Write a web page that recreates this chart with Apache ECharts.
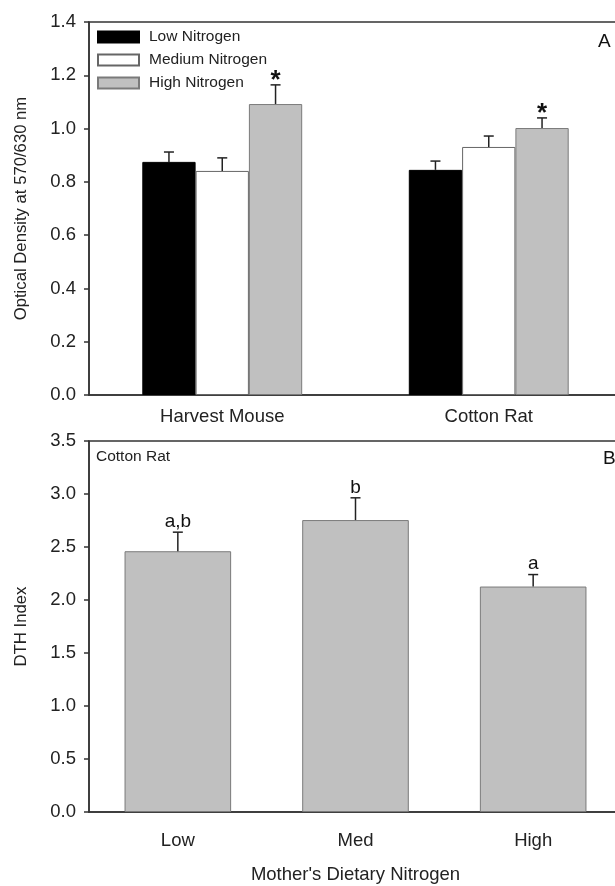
<!DOCTYPE html>
<html>
<head>
<meta charset="utf-8">
<script src="https://cdn.jsdelivr.net/npm/echarts@6/dist/echarts.min.js"></script>
<style>
html,body{margin:0;padding:0;background:#fff;}
#chart{width:615px;height:886px;}
</style>
</head>
<body>
<div id="chart"></div>
<script>
// ---- Panel A data ----
const speciesCategories = ['Harvest Mouse', 'Cotton Rat'];
const nitrogenSeriesNames = ['Low Nitrogen', 'Medium Nitrogen', 'High Nitrogen'];
const lowNitrogen = [0.875, 0.845];
const lowNitrogenErr = [0.037, 0.033];
const mediumNitrogen = [0.841, 0.931];
const mediumNitrogenErr = [0.049, 0.041];
const highNitrogen = [1.092, 1.002];
const highNitrogenErr = [0.072, 0.038];
const highNitrogenMarks = ['*', '*'];
const yTicksA = [0, 0.2, 0.4, 0.6, 0.8, 1.0, 1.2, 1.4];

// ---- Panel B data ----
const dietCategories = ['Low', 'Med', 'High'];
const dthIndex = [2.46, 2.754, 2.127];
const dthErr = [0.18, 0.21, 0.113];
const dthLetters = ['a,b', 'b', 'a'];
const yTicksB = [0, 0.5, 1.0, 1.5, 2.0, 2.5, 3.0, 3.5];

const FONT = '"Liberation Sans", Arial, sans-serif';
const chart = echarts.init(document.getElementById('chart'));

const groupA = [
  {name: nitrogenSeriesNames[0], vals: lowNitrogen, errs: lowNitrogenErr, marks: null, fill: '#000000', border: '#000000'},
  {name: nitrogenSeriesNames[1], vals: mediumNitrogen, errs: mediumNitrogenErr, marks: null, fill: '#ffffff', border: '#666666'},
  {name: nitrogenSeriesNames[2], vals: highNitrogen, errs: highNitrogenErr, marks: highNitrogenMarks, fill: '#c0c0c0', border: '#7a7a7a'}
];

function errRenderer(offsetFactor, barFrac, labels, labelFont, labelDy) {
  return function (params, api) {
    const idx = api.value(0), v = api.value(1), e = api.value(2);
    const band = api.size([1, 0])[0];
    const off = offsetFactor * band * barFrac;
    const b = api.coord([idx, v]);
    const t = api.coord([idx, v + e]);
    const x = b[0] + off;
    const children = [
      {type: 'line', shape: {x1: x, y1: b[1], x2: x, y2: t[1]}, style: {stroke: '#222', lineWidth: 1.5}},
      {type: 'line', shape: {x1: x - 5, y1: t[1], x2: x + 5, y2: t[1]}, style: {stroke: '#222', lineWidth: 1.5}}
    ];
    const lab = labels ? labels[params.dataIndex] : '';
    if (lab) {
      children.push({type: 'text', style: {text: lab, x: x, y: t[1] + labelDy, align: 'center', verticalAlign: 'bottom', font: labelFont, fill: '#111'}});
    }
    return {type: 'group', children: children};
  };
}

const series = [];
groupA.forEach((g) => {
  series.push({
    type: 'bar', name: g.name, xAxisIndex: 0, yAxisIndex: 0,
    data: g.vals, barWidth: '20%', barGap: '0%',
    itemStyle: {color: g.fill, borderColor: g.border, borderWidth: 1},
    emphasis: {disabled: true}, z: 2
  });
});
groupA.forEach((g, k) => {
  series.push({
    type: 'custom', xAxisIndex: 0, yAxisIndex: 0, z: 3,
    renderItem: errRenderer(k - 1, 0.2, g.marks, 'bold 26px ' + FONT, 9),
    data: g.vals.map((v, i) => [i, v, g.errs[i]])
  });
});
series.push({
  type: 'bar', xAxisIndex: 1, yAxisIndex: 1, data: dthIndex, barWidth: '60%',
  itemStyle: {color: '#c0c0c0', borderColor: '#7a7a7a', borderWidth: 1},
  emphasis: {disabled: true}, z: 2
});
series.push({
  type: 'custom', xAxisIndex: 1, yAxisIndex: 1, z: 3,
  renderItem: errRenderer(0, 0.6, dthLetters, '19px ' + FONT, -1),
  data: dthIndex.map((v, i) => [i, v, dthErr[i]])
});

const axisLine = {lineStyle: {color: '#333', width: 1.5}};
const labelStyle = {color: '#222', fontSize: 18.5, fontFamily: FONT};

chart.setOption({
  animation: false,
  backgroundColor: '#fff',
  textStyle: {fontFamily: FONT},
  grid: [
    {left: 89, top: 22, width: 533, height: 373, show: true, borderColor: '#333', borderWidth: 1.5, backgroundColor: 'transparent', outerBoundsMode: 'none', containLabel: false},
    {left: 89, top: 441, width: 533, height: 371, show: true, borderColor: '#333', borderWidth: 1.5, backgroundColor: 'transparent', outerBoundsMode: 'none', containLabel: false}
  ],
  legend: {
    data: nitrogenSeriesNames, orient: 'vertical', left: 97, top: 29, padding: 0,
    itemWidth: 41, itemHeight: 11, itemGap: 7, icon: 'rect',
    textStyle: {fontSize: 15.5, color: '#222', fontFamily: FONT, lineHeight: 15, padding: [0, 0, 0, 5]},
    selectedMode: false
  },
  xAxis: [
    {type: 'category', gridIndex: 0, data: speciesCategories, axisLine: axisLine, axisTick: {show: false},
     axisLabel: Object.assign({margin: 12}, labelStyle)},
    {type: 'category', gridIndex: 1, data: dietCategories, axisLine: axisLine,
     axisTick: {alignWithLabel: true, length: 6, lineStyle: {color: '#333', width: 1.5}},
     axisLabel: Object.assign({margin: 19}, labelStyle),
     name: "Mother's Dietary Nitrogen", nameLocation: 'middle', nameGap: 53,
     nameTextStyle: {fontSize: 18.5, color: '#222', fontFamily: FONT}}
  ],
  yAxis: [
    {type: 'value', gridIndex: 0, min: yTicksA[0], max: yTicksA[yTicksA.length - 1], interval: 0.2,
     axisLine: Object.assign({show: true}, axisLine), axisTick: {show: true, length: 5, lineStyle: {color: '#333', width: 1.5}},
     splitLine: {show: false},
     axisLabel: Object.assign({margin: 13, formatter: v => v.toFixed(1)}, labelStyle),
     name: 'Optical Density at 570/630 nm', nameLocation: 'middle', nameGap: 59,
     nameTextStyle: {fontSize: 16.7, color: '#222', fontFamily: FONT}},
    {type: 'value', gridIndex: 1, min: yTicksB[0], max: yTicksB[yTicksB.length - 1], interval: 0.5,
     axisLine: Object.assign({show: true}, axisLine), axisTick: {show: true, length: 5, lineStyle: {color: '#333', width: 1.5}},
     splitLine: {show: false},
     axisLabel: Object.assign({margin: 13, formatter: v => v.toFixed(1)}, labelStyle),
     name: 'DTH Index', nameLocation: 'middle', nameGap: 59,
     nameTextStyle: {fontSize: 16.7, color: '#222', fontFamily: FONT}}
  ],
  graphic: [
    {type: 'text', left: 598, top: 32, style: {text: 'A', font: '19px ' + FONT, fill: '#111'}},
    {type: 'text', left: 603, top: 449, style: {text: 'B', font: '19px ' + FONT, fill: '#111'}},
    {type: 'text', left: 96, top: 449, style: {text: 'Cotton Rat', font: '15.5px ' + FONT, fill: '#222'}}
  ],
  series: series
});
</script>
</body>
</html>
